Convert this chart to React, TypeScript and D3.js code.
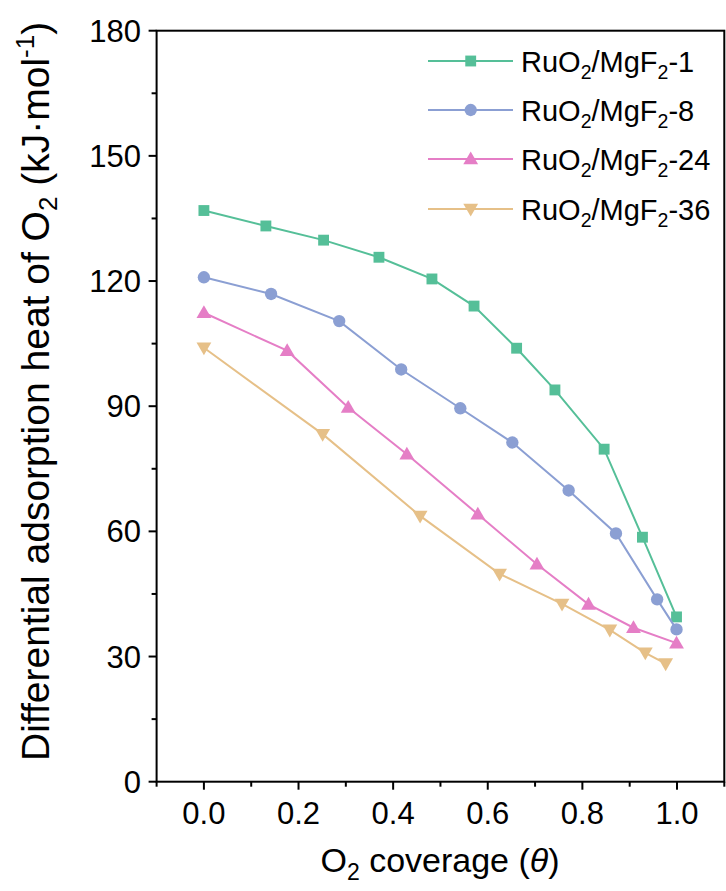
import React from "react";
import * as d3 from "d3";

const coverage1 = [0, 0.131, 0.253, 0.37, 0.482, 0.571, 0.661, 0.742, 0.846, 0.927, 0.999];
const heat1 = [136.9, 133.2, 129.8, 125.7, 120.5, 114.0, 103.9, 93.9, 79.7, 58.6, 39.5];
const coverage8 = [0, 0.142, 0.286, 0.417, 0.542, 0.652, 0.771, 0.871, 0.958, 0.999];
const heat8 = [120.9, 116.9, 110.4, 98.8, 89.5, 81.3, 69.8, 59.5, 43.7, 36.5];
const coverage24 = [0, 0.176, 0.305, 0.429, 0.579, 0.704, 0.813, 0.908, 0.999];
const heat24 = [112.4, 103.3, 89.7, 78.5, 64.1, 52.1, 42.5, 36.9, 33.2];
const coverage36 = [0, 0.251, 0.457, 0.625, 0.757, 0.858, 0.933, 0.976];
const heat36 = [104.0, 83.3, 63.7, 49.8, 42.6, 36.4, 30.9, 28.3];

const seriesNames = ["1", "8", "24", "36"];
const seriesColors = ["#55BF98", "#8B9FD3", "#E57EC6", "#E6C088"];
const seriesSymbols = ["square", "circle", "triangleUp", "triangleDown"];

const xTicks = [0, 0.2, 0.4, 0.6, 0.8, 1.0];
const xMinorTicks = [-0.1, 0.1, 0.3, 0.5, 0.7, 0.9, 1.1];
const yTicks = [0, 30, 60, 90, 120, 150, 180];
const yMinorTicks = [15, 45, 75, 105, 135, 165];

const FONT = "'Liberation Sans', Arial, sans-serif";

function markerPath(kind: string) {
  if (kind === "square") return d3.symbol().type(d3.symbolSquare).size(118)()!;
  if (kind === "circle") return d3.symbol().type(d3.symbolCircle).size(120)()!;
  return d3.symbol().type(d3.symbolTriangle).size(95)()!;
}

function Marker({ kind, x, y, color }: { kind: string; x: number; y: number; color: string }) {
  const rot = kind === "triangleDown" ? 180 : 0;
  const dy = kind === "triangleDown" ? -1 : kind === "triangleUp" ? 1 : 0;
  return (
    <path
      d={markerPath(kind)}
      transform={`translate(${x},${y + dy}) rotate(${rot})`}
      fill={color}
    />
  );
}

export default function App() {
  const W = 726;
  const H = 891;
  const x = d3.scaleLinear().domain([-0.1, 1.1]).range([156.6, 724.3]);
  const y = d3.scaleLinear().domain([0, 180]).range([781.7, 30.7]);

  const series = [
    { xs: coverage1, ys: heat1 },
    { xs: coverage8, ys: heat8 },
    { xs: coverage24, ys: heat24 },
    { xs: coverage36, ys: heat36 },
  ];

  const line = d3
    .line<[number, number]>()
    .x((d) => x(d[0]))
    .y((d) => y(d[1]));

  const legendY = [61, 110, 159, 209];
  const x0 = x(-0.1);
  const x1 = x(1.1);
  const y0 = y(0);
  const y1 = y(180);

  return (
    <svg
      width={W}
      height={H}
      viewBox={`0 0 ${W} ${H}`}
      style={{ position: "absolute", left: 0, top: 0, background: "#fff" }}
      fontFamily={FONT}
    >
      <rect x={0} y={0} width={W} height={H} fill="#fff" />

      {/* series */}
      {series.map((s, i) => {
        const pts = s.xs.map((v, j) => [v, s.ys[j]] as [number, number]);
        return (
          <g key={i}>
            <path d={line(pts)!} fill="none" stroke={seriesColors[i]} strokeWidth={2} />
            {pts.map((p, j) => (
              <Marker key={j} kind={seriesSymbols[i]} x={x(p[0])} y={y(p[1])} color={seriesColors[i]} />
            ))}
          </g>
        );
      })}

      {/* frame */}
      <rect x={x0} y={y1} width={x1 - x0} height={y0 - y1} fill="none" stroke="#000" strokeWidth={2} />

      {/* x ticks */}
      {xTicks.map((t) => (
        <g key={"xt" + t}>
          <line x1={x(t)} x2={x(t)} y1={y0} y2={y0 + 8} stroke="#000" strokeWidth={2} />
          <text x={x(t)} y={824} textAnchor="middle" fontSize={31} fill="#000">
            {d3.format(".1f")(t)}
          </text>
        </g>
      ))}
      {xMinorTicks.map((t) => (
        <line key={"xm" + t} x1={x(t)} x2={x(t)} y1={y0} y2={y0 + 5} stroke="#000" strokeWidth={2} />
      ))}

      {/* y ticks */}
      {yTicks.map((t) => (
        <g key={"yt" + t}>
          <line x1={x0 - 8} x2={x0} y1={y(t)} y2={y(t)} stroke="#000" strokeWidth={2} />
          <text x={141} y={y(t) + 11} textAnchor="end" fontSize={31} fill="#000">
            {t}
          </text>
        </g>
      ))}
      {yMinorTicks.map((t) => (
        <line key={"ym" + t} x1={x0 - 5} x2={x0} y1={y(t)} y2={y(t)} stroke="#000" strokeWidth={2} />
      ))}

      {/* x title */}
      <text x={440} y={872} textAnchor="middle" fontSize={34} fill="#000">
        <tspan>O</tspan>
        <tspan fontSize={23} dy={8}>2</tspan>
        <tspan dy={-8}> coverage (</tspan>
        <tspan fontStyle="italic">θ</tspan>
        <tspan>)</tspan>
      </text>

      {/* y title */}
      <text
        transform={`translate(49,761) rotate(-90)`}
        x={0}
        y={0}
        textAnchor="start"
        fontSize={39}
        fill="#000"
      >
        <tspan>Differential adsorption heat of O</tspan>
        <tspan fontSize={26} dy={8}>2</tspan>
        <tspan dy={-8}> (kJ·mol</tspan>
        <tspan fontSize={26} dy={-15}>-1</tspan>
        <tspan dy={15}>)</tspan>
      </text>

      {/* legend */}
      {seriesNames.map((n, i) => (
        <g key={"lg" + i}>
          <line x1={428} x2={513} y1={legendY[i]} y2={legendY[i]} stroke={seriesColors[i]} strokeWidth={2} />
          <Marker kind={seriesSymbols[i]} x={470.7} y={legendY[i]} color={seriesColors[i]} />
          <text x={521} y={legendY[i] + 10.5} fontSize={29} fill="#000">
            <tspan>RuO</tspan>
            <tspan fontSize={19.5} dy={7}>2</tspan>
            <tspan dy={-7}>/MgF</tspan>
            <tspan fontSize={19.5} dy={7}>2</tspan>
            <tspan dy={-7}>-{n}</tspan>
          </text>
        </g>
      ))}
    </svg>
  );
}
